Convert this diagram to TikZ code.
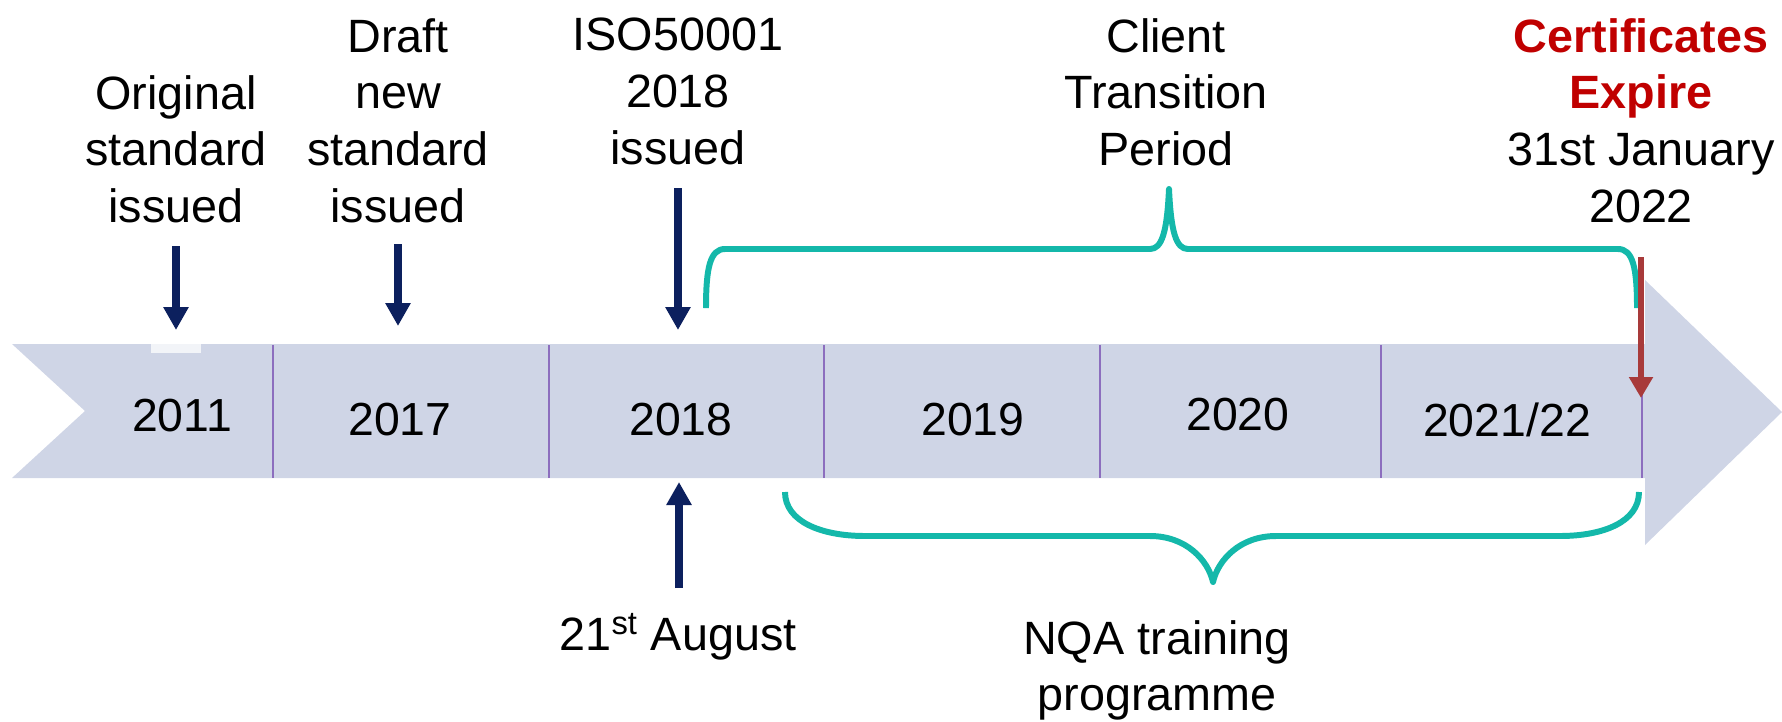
\documentclass[tikz,border=0pt]{standalone}
\usepackage{fontspec}
\setmainfont{Liberation Sans}
\usetikzlibrary{arrows.meta}

\definecolor{bandfill}{RGB}{207,213,230}
\definecolor{sepline}{RGB}{140,110,190}
\definecolor{navyblue}{RGB}{12,32,94}
\definecolor{bracecol}{RGB}{20,184,170}
\definecolor{expred}{RGB}{192,0,0}
\definecolor{markred}{RGB}{168,58,58}

\tikzset{
  lbl/.style={align=center, inner sep=0pt, font=\fontsize{26.6}{32.3}\selectfont},
  yearlbl/.style={inner sep=0pt, font=\fontsize{26.4}{32.3}\selectfont},
  navyarrow/.style={draw=navyblue, line width=4.5pt,
    -{Triangle[width=0.48cm,length=0.46cm]}},
  redarrow/.style={draw=markred, line width=2.9pt,
    -{Triangle[width=0.46cm,length=0.42cm]}},
  bracepath/.style={draw=bracecol, line width=3.4pt, line join=round},
  sepstyle/.style={draw=sepline, line width=1.1pt},
}

\begin{document}
\begin{tikzpicture}[x=0.02cm,y=-0.02cm]
\useasboundingbox (0,0) rectangle (1782,721);

% timeline band with notched tail and arrow head
\fill[bandfill] (12,344) -- (1645,344) -- (1645,280) -- (1782,412)
  -- (1645,545) -- (1645,478) -- (12,478) -- (85,411) -- cycle;
\fill[white, opacity=0.75] (151,334) rectangle (201,353);

% year separators
\foreach \sx/\nm in {273/s1,549/s2,824/s3,1100/s4,1381/s5,1642/s6}{
  \coordinate (\nm t) at (\sx,345);
  \coordinate (\nm b) at (\sx,478);
  \draw[sepstyle] (\nm t) -- (\nm b);
}

% years
\node[yearlbl] (y2011) at (182,416) {2011};
\node[yearlbl] (y2017) at (400,420) {2017};
\node[yearlbl] (y2018) at (681,420) {2018};
\node[yearlbl] (y2019) at (973,420) {2019};
\node[yearlbl] (y2020) at (1238,415) {2020};
\node[yearlbl] (y2021) at (1507,420) {2021/22};

% milestone labels above the band
\node[lbl, anchor=north] (orig) at (176,75) {Original\\standard\\issued};
\node[lbl, anchor=north] (draft) at (398,18) {Draft\\new\\standard\\issued};
\node[lbl, anchor=north] (iso) at (678,18) {ISO50001\\2018\\issued};
\node[lbl, anchor=north] (client) at (1166,18) {Client\\Transition\\Period};
\node[lbl, anchor=north] (cert) at (1641,18)
  {\textcolor{expred}{\bfseries Certificates}\\\textcolor{expred}{\bfseries Expire}\\31st January\\2022};

% labels below the band
\node[lbl, anchor=base] (aug) at (678,650) {21\textsuperscript{st} August};
\node[lbl, anchor=north] (nqa) at (1157,620) {NQA training\\programme};

% milestone arrows
\coordinate (a1s) at (176,246); \coordinate (a1e) at (176,330);
\coordinate (a2s) at (398,244); \coordinate (a2e) at (398,326);
\coordinate (a3s) at (678,188); \coordinate (a3e) at (678,330);
\coordinate (a4s) at (679,588); \coordinate (a4e) at (679,482);
\draw[navyarrow] (a1s) -- (a1e);
\draw[navyarrow] (a2s) -- (a2e);
\draw[navyarrow] (a3s) -- (a3e);
\draw[navyarrow] (a4s) -- (a4e);

% transition period brace (above)
\coordinate (ub1) at (706,308);
\coordinate (ubc) at (1169,189);
\coordinate (ub2) at (1637,308);
\draw[bracepath] (ub1) .. controls (706,268) and (710,249) .. (725,249)
  -- (1150,249) .. controls (1162,249) and (1167,232) .. (ubc)
  .. controls (1171,232) and (1176,249) .. (1188,249)
  -- (1618,249) .. controls (1633,249) and (1637,268) .. (ub2);

% training brace (below)
\coordinate (lb1) at (785,492);
\coordinate (lbc) at (1213,582);
\coordinate (lb2) at (1639,492);
\draw[bracepath] (lb1) .. controls (785,522) and (822,536) .. (865,536)
  -- (1150,536) .. controls (1186,536) and (1208,560) .. (lbc)
  .. controls (1218,560) and (1240,536) .. (1276,536)
  -- (1560,536) .. controls (1603,536) and (1639,522) .. (lb2);

% expiry marker
\coordinate (rs) at (1641,257); \coordinate (re) at (1641,398);
\draw[redarrow] (rs) -- (re);
\end{tikzpicture}
\end{document}
